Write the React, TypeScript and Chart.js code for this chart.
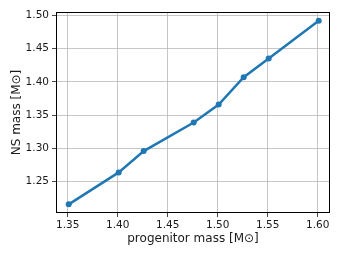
import React, { useEffect, useRef } from "react";
import { Chart, registerables } from "chart.js";

Chart.register(...registerables);

const progenitorMass = [1.351, 1.401, 1.426, 1.476, 1.501, 1.526, 1.551, 1.601];
const nsMass = [1.216, 1.264, 1.296, 1.339, 1.366, 1.407, 1.435, 1.492];
const xTicks = [1.35, 1.4, 1.45, 1.5, 1.55, 1.6];
const yTicks = [1.25, 1.3, 1.35, 1.4, 1.45, 1.5];
const xTitle = "progenitor mass [M⊙]";
const yTitle = "NS mass [M⊙]";

const FONT = "'DejaVu Sans', sans-serif";

const framePlugin = {
  id: "frame",
  afterDraw(chart: any) {
    const { ctx, chartArea } = chart;
    ctx.save();
    ctx.strokeStyle = "#000";
    ctx.lineWidth = 1;
    ctx.strokeRect(
      Math.round(chartArea.left) + 0.5,
      Math.round(chartArea.top) + 0.5,
      Math.round(chartArea.right - chartArea.left) - 1,
      Math.round(chartArea.bottom - chartArea.top) - 1
    );
    ctx.restore();
  },
};

export default function App() {
  const ref = useRef<HTMLCanvasElement>(null);
  useEffect(() => {
    if (!ref.current) return;
    const chart = new Chart(ref.current, {
      type: "line",
      data: {
        datasets: [
          {
            data: progenitorMass.map((x, i) => ({ x, y: nsMass[i] })),
            borderColor: "#1f77b4",
            backgroundColor: "#1f77b4",
            borderWidth: 2.5,
            pointRadius: 3,
            pointBorderWidth: 0,
            pointBackgroundColor: "#1f77b4",
            tension: 0,
          },
        ],
      },
      plugins: [framePlugin],
      options: {
        responsive: false,
        animation: false,
        layout: { padding: { left: 0, top: 12, right: 12, bottom: 0 } },
        plugins: { legend: { display: false }, tooltip: { enabled: false } },
        scales: {
          x: {
            type: "linear",
            min: 1.3383,
            max: 1.6123,
            afterBuildTicks: (s: any) => {
              s.ticks = xTicks.map((v) => ({ value: v }));
            },
            afterFit: (s: any) => {
              s.height = 44;
            },
            ticks: {
              font: { family: FONT, size: 10.5 },
              color: "#1a1a1a",
              padding: 2,
              maxRotation: 0,
              callback: (v: any) => Number(v).toFixed(2),
            },
            grid: {
              color: "#b8b8b8",
              lineWidth: 0.8,
              tickColor: "#1a1a1a",
              tickLength: 4,
              drawTicks: true,
            },
            border: { display: false },
            title: {
              display: true,
              text: xTitle,
              font: { family: FONT, size: 12 },
              color: "#1a1a1a",
              padding: { top: 0, bottom: 10.5 },
            },
          },
          y: {
            type: "linear",
            min: 1.203,
            max: 1.505,
            afterBuildTicks: (s: any) => {
              s.ticks = yTicks.map((v) => ({ value: v }));
            },
            afterFit: (s: any) => {
              s.width = 56;
            },
            ticks: {
              font: { family: FONT, size: 10.5 },
              color: "#1a1a1a",
              padding: 3,
              callback: (v: any) => Number(v).toFixed(2),
            },
            grid: {
              color: "#b8b8b8",
              lineWidth: 0.8,
              tickColor: "#1a1a1a",
              tickLength: 4,
              drawTicks: true,
            },
            border: { display: false },
            title: {
              display: true,
              text: yTitle,
              font: { family: FONT, size: 12 },
              color: "#1a1a1a",
              padding: { top: 9.8, bottom: 0 },
            },
          },
        },
      },
    });
    return () => chart.destroy();
  }, []);
  return (
    <div style={{ position: "fixed", left: 0, top: 0, width: 342, height: 257, background: "#fff" }}>
      <canvas ref={ref} width={342} height={257} style={{ width: 342, height: 257 }} />
    </div>
  );
}
